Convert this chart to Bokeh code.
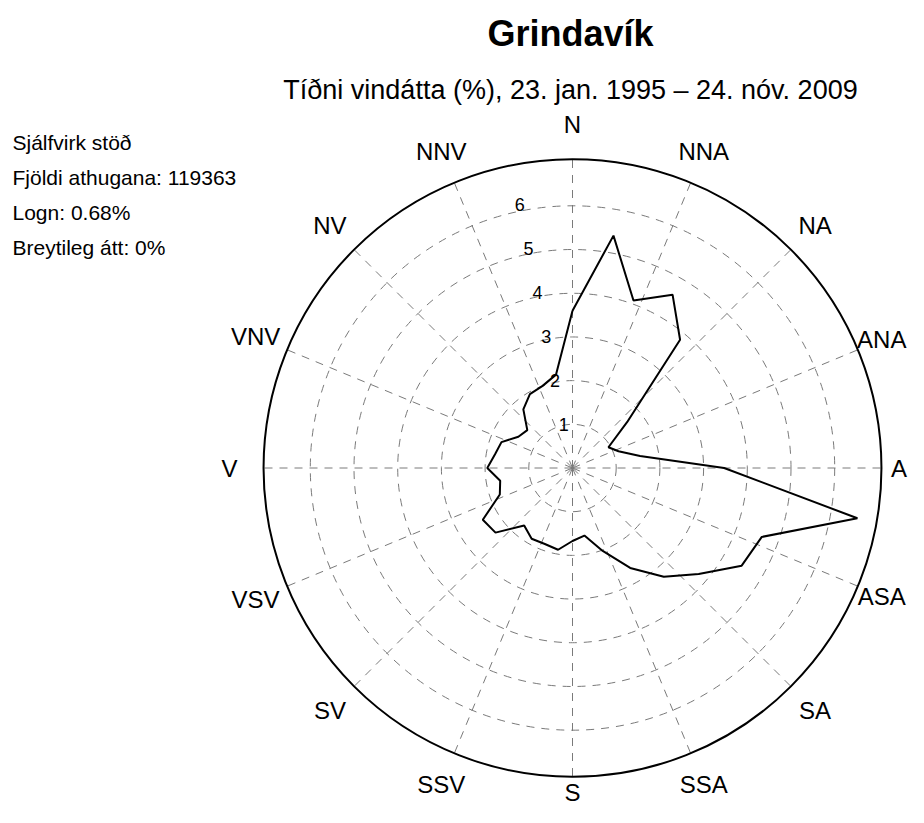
import math
from bokeh.plotting import figure
from bokeh.models import Range1d, Label
from bokeh.core.properties import value
from bokeh.embed import file_html
from bokeh.resources import INLINE

# ---- data ----
title_text = "Grindavík"
subtitle_text = "Tíðni vindátta (%), 23. jan. 1995 – 24. nóv. 2009"
info_lines = ["Sjálfvirk stöð", "Fjöldi athugana: 119363", "Logn: 0.68%", "Breytileg átt: 0%"]

dir_labels = ["N", "NNA", "NA", "ANA", "A", "ASA", "SA", "SSA",
              "S", "SSV", "SV", "VSV", "V", "VNV", "NV", "NNV"]
dir_angles = [i * 22.5 for i in range(16)]

ring_values = [1, 2, 3, 4, 5, 6]
ring_labels = ["1", "2", "3", "4", "5", "6"]
outer_radius = 7.07

wind_dirs = [0, 10, 20, 30, 40, 50, 60, 70, 80, 90, 100, 110,
             120, 130, 140, 150, 160, 170, 180, 190, 200, 210, 220, 230,
             240, 250, 260, 270, 280, 290, 300, 310, 320, 330, 340, 350]
wind_freq = [3.60, 5.40, 4.08, 4.58, 3.83, 1.63, 0.95, 1.12, 1.57, 3.47, 6.62, 4.61,
             4.47, 3.77, 3.25, 2.64, 2.02, 1.57, 1.67, 1.90, 1.85, 1.87, 1.72, 2.30,
             2.37, 1.77, 1.68, 1.95, 1.80, 1.73, 1.43, 1.35, 1.75, 1.95, 2.00, 2.17]

# ---- layout ----
W, H = 908, 807
U = 43.7                      # pixels per unit
cx, cy = 572.0, 467.5         # centre in figure pixels (from top-left)

p = figure(width=W, height=H, output_backend="svg", toolbar_location=None,
           x_range=Range1d(-cx / U, (W - cx) / U),
           y_range=Range1d(-(H - cy) / U, cy / U),
           min_border=0, min_border_left=0, min_border_right=0,
           min_border_top=0, min_border_bottom=0)
p.axis.visible = False
p.grid.visible = False
p.outline_line_color = None
p.background_fill_color = "white"
p.border_fill_color = "white"

font = value("Liberation Sans")
grid_col = "#7a7a7a"

# dashed rings
p.circle(x=[0] * len(ring_values), y=[0] * len(ring_values), radius=ring_values,
         fill_color=None, line_color=grid_col, line_width=1, line_dash="8 7")

# dashed radial spokes
for a in dir_angles:
    t = math.radians(a)
    p.line([0, outer_radius * math.sin(t)], [0, outer_radius * math.cos(t)],
           line_color=grid_col, line_width=1, line_dash="8 7")

# outer circle
p.circle(x=[0], y=[0], radius=[outer_radius], fill_color=None,
         line_color="black", line_width=2)

# ring labels
la = math.radians(-11.3)
p.text(x=[v * 1.025 * math.sin(la) for v in ring_values],
       y=[v * 1.025 * math.cos(la) for v in ring_values],
       text=ring_labels, text_font=font, text_font_size="18px",
       text_align="center", text_baseline="middle", text_color="black")

# direction labels (right-hand and bottom ones pulled slightly inward to stay on the canvas)
pull = {67.5: 7.66, 90.0: 7.47, 112.5: 7.66, 180.0: 7.42}
lab_r = [pull.get(a, 7.85) for a in dir_angles]
p.text(x=[r * math.sin(math.radians(a)) for r, a in zip(lab_r, dir_angles)],
       y=[r * math.cos(math.radians(a)) for r, a in zip(lab_r, dir_angles)],
       text=dir_labels, text_font=font, text_font_size="24px",
       text_align="center", text_baseline="middle", text_color="black")

# wind frequency polygon
xs = [v * math.sin(math.radians(d)) for d, v in zip(wind_dirs, wind_freq)]
ys = [v * math.cos(math.radians(d)) for d, v in zip(wind_dirs, wind_freq)]
xs.append(xs[0]); ys.append(ys[0])
p.line(xs, ys, line_color="black", line_width=2)

# titles (screen units, y measured from bottom)
def sy(y_page):
    return H - y_page

p.add_layout(Label(x=570, y=sy(33), x_units="screen", y_units="screen",
                   text=title_text, text_font="Liberation Sans", text_font_size="36px",
                   text_font_style="bold", text_align="center", text_baseline="middle",
                   text_color="black"))
p.add_layout(Label(x=570, y=sy(89), x_units="screen", y_units="screen",
                   text=subtitle_text, text_font="Liberation Sans", text_font_size="27px",
                   text_align="center", text_baseline="middle", text_color="black"))
for i, t in enumerate(info_lines):
    p.add_layout(Label(x=12, y=sy(142 + 35 * i), x_units="screen", y_units="screen",
                       text=t, text_font="Liberation Sans", text_font_size="21px",
                       text_align="left", text_baseline="middle", text_color="black"))

open("out.html", "w").write(file_html(p, INLINE))
